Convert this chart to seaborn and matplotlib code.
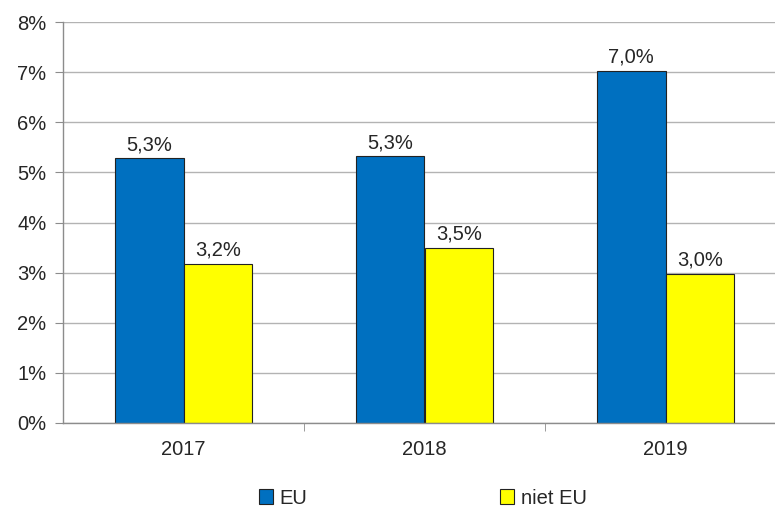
import numpy as np
import pandas as pd
import matplotlib
import matplotlib.pyplot as plt
import matplotlib.patches as mpatches
import seaborn as sns

matplotlib.use("Agg")

# ── Data ──────────────────────────────────────────────────────────────────────
years = ["2017", "2018", "2019"]
eu = [5.28, 5.32, 7.03]
niet_eu = [3.17, 3.50, 2.97]
series = ["EU", "niet EU"]
colors = ["#0070C0", "#FFFF00"]

df = pd.DataFrame({
    "year": years * 2,
    "value": eu + niet_eu,
    "group": [series[0]] * 3 + [series[1]] * 3,
})

sns.set_style("white")
plt.rcParams["font.family"] = ["Liberation Sans", "DejaVu Sans"]
FS = 14.5

fig = plt.figure(figsize=(7.75, 5.16), dpi=100)
ax = fig.add_axes([63 / 775, 1 - 423 / 516, (786 - 63) / 775, (423 - 22) / 516])

sns.barplot(
    data=df, x="year", y="value", hue="group",
    palette=colors, saturation=1, ax=ax, width=0.572, gap=0,
    edgecolor="#222222", linewidth=0.8, legend=False,
)

# value labels
for cont in ax.containers:
    labels = [f"{v:.1f}".replace(".", ",") + "%" for v in cont.datavalues]
    ax.bar_label(cont, labels=labels, padding=3, fontsize=FS)

ax.set_ylim(0, 8)
ax.set_xlim(-0.5, 2.5)
ax.set_yticks(range(0, 9))
ax.set_yticklabels([f"{i}%" for i in range(0, 9)], fontsize=FS)
ax.set_xticks(range(3))
ax.set_xticklabels(years, fontsize=FS)
ax.set_xlabel("")
ax.set_ylabel("")

ax.yaxis.grid(True, color="#b3b3b3", linewidth=1)
ax.set_axisbelow(True)
for s in ["top", "right"]:
    ax.spines[s].set_visible(False)
for s in ["left", "bottom"]:
    ax.spines[s].set_color("#8c8c8c")
    ax.spines[s].set_linewidth(1)

ax.tick_params(axis="y", left=True, length=6, color="#8c8c8c", pad=6)
ax.tick_params(axis="x", bottom=False, pad=9)
# category separator ticks on x axis
ax.set_xticks([0.5, 1.5], minor=True)
ax.tick_params(axis="x", which="minor", bottom=True, length=6, color="#8c8c8c")

handles = [mpatches.Patch(facecolor=c, edgecolor="#222222", linewidth=0.8, label=s)
           for c, s in zip(colors, series)]
fig.legend(handles=handles, loc="center", bbox_to_anchor=(0.5455, 1 - 498 / 516),
           ncol=2, frameon=False, fontsize=FS, handlelength=0.7, handleheight=0.7,
           handletextpad=0.3, columnspacing=9.6)

fig.savefig("out.png", dpi=100)
